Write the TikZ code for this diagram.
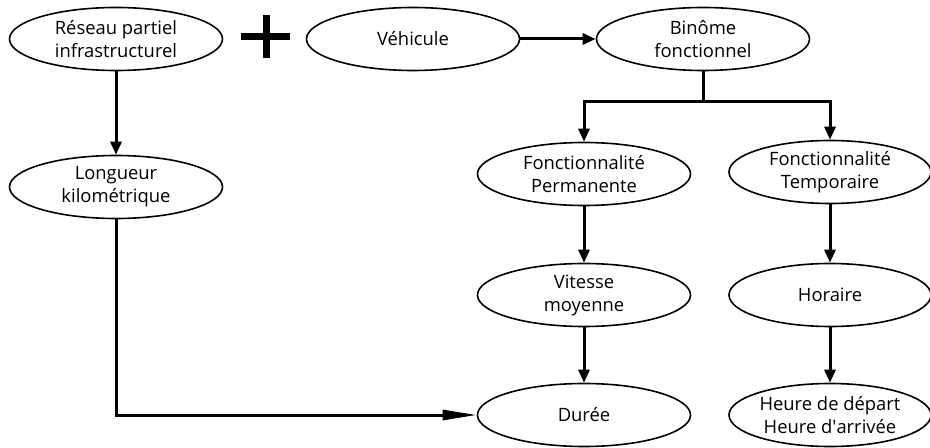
\documentclass[tikz,border=0pt]{standalone}
\usepackage{fontspec}
\setmainfont{Open Sans}
\usetikzlibrary{shapes.geometric,arrows.meta}

\begin{document}
\begin{tikzpicture}[x=0.5pt, y=-0.5pt,
		bulle/.style={draw, ellipse, line width=0.8pt, minimum width=106.5pt, minimum height=31.5pt, inner sep=0pt, align=center, font=\fontsize{9.2}{11.5}\selectfont},
		fleche/.style={line width=1.5pt, -{Triangle[length=6.5pt, width=5.5pt]}},
		longfleche/.style={line width=1.5pt, -{Triangle[length=17pt, width=5pt]}}]
			\useasboundingbox (0,0) rectangle (930,448);
			
			\node[bulle] (reseau) at (116,39) {Réseau partiel\\infrastructurel};
			\node[bulle] (vehicule) at (413,39) {Véhicule};
			\node[bulle] (binome) at (703,39) {Binôme\\fonctionnel};
			\node[bulle] (longueur) at (116,187) {Longueur\\kilométrique};
			
			\node[bulle] (perm) at (584,174) {Fonctionnalité\\Permanente};
			\node[bulle, minimum width=101pt] (temp) at (830,172) {Fonctionnalité\\Temporaire};
			\node[bulle] (vitesse) at (584,295) {Vitesse\\moyenne};
			\node[bulle, minimum width=101pt] (horaire) at (830,295) {Horaire};
			\node[bulle] (duree) at (584,415) {Durée};
			\node[bulle, minimum width=101pt] (heure) at (830,415) {Heure de départ\\Heure d\textquotesingle arrivée};
			
			% le signe plus
			\draw[line width=3.5pt] (241,37) -- (290,37);
			\draw[line width=3.5pt] (266,15) -- (266,58);
			
			\draw[fleche] (vehicule) -- (binome);
			\draw[fleche] (reseau) -- (longueur);
			\draw[fleche] (binome.south) -- ++(0,30) -| (perm.north);
			\draw[fleche] (binome.south) -- ++(0,30) -| (temp.north);
			\draw[fleche] (perm) -- (vitesse);
			\draw[fleche] (vitesse) -- (duree);
			\draw[fleche] (temp) -- (horaire);
			\draw[fleche] (horaire) -- (heure);
			
			\draw[longfleche] (longueur.south) |- (duree.west);
		\end{tikzpicture}
\end{document}
